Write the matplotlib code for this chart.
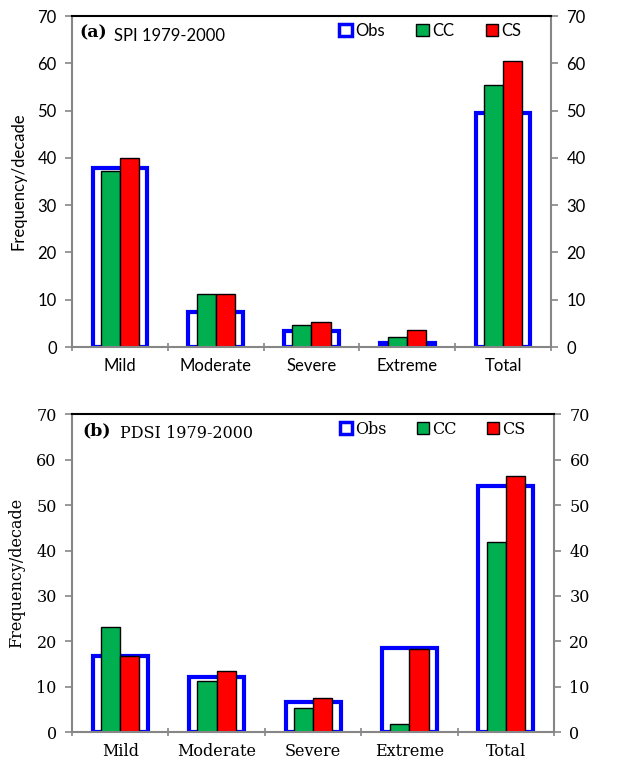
import matplotlib
matplotlib.use("Agg")
import matplotlib.pyplot as plt
from matplotlib.patches import Patch
import numpy as np

categories = ["Mild", "Moderate", "Severe", "Extreme", "Total"]

spi_obs = [37.8, 7.5, 3.3, 0.9, 49.5]
spi_cc = [37.2, 11.3, 4.7, 2.2, 55.5]
spi_cs = [40.0, 11.3, 5.3, 3.6, 60.4]

pdsi_obs = [16.8, 12.1, 6.7, 18.5, 54.2]
pdsi_cc = [23.2, 11.2, 5.2, 1.8, 41.8]
pdsi_cs = [16.8, 13.5, 7.5, 18.2, 56.4]

GREEN = "#00B050"
RED = "#FF0000"
BLUE = "#0000FF"
GRAY = "#868686"


def panel(ax, obs, cc, cs, tag, title, font, fs, tag_x, title_x):
    x = np.arange(len(categories))
    ax.bar(x, obs, width=0.57, facecolor="white", edgecolor=BLUE, linewidth=3.0, zorder=1)
    ax.bar(x - 0.1, cc, width=0.2, color=GREEN, edgecolor="black", linewidth=1.0, zorder=2)
    ax.bar(x + 0.1, cs, width=0.2, color=RED, edgecolor="black", linewidth=1.0, zorder=2)
    ax.set_xlim(-0.5, len(categories) - 0.5)
    ax.set_ylim(0, 70)
    ax.set_yticks(range(0, 71, 10))
    ax.set_xticks(x)
    ax.set_xticklabels(categories, family=font, fontsize=fs)
    ax.set_xticks(np.arange(-0.5, len(categories), 1.0), minor=True)
    ax.tick_params(axis="x", which="major", length=0, pad=8)
    ax.tick_params(axis="x", which="minor", length=6, color=GRAY, direction="inout", width=1.2)
    ax.tick_params(axis="y", which="both", left=True, right=True, labelleft=True,
                   labelright=True, length=5, color=GRAY, width=1.2, direction="out",
                   labelsize=fs, pad=6)
    for lab in ax.get_yticklabels():
        lab.set_family(font)
    for s in ("left", "right", "bottom"):
        ax.spines[s].set_color(GRAY)
        ax.spines[s].set_linewidth(1.5)
    ax.spines["top"].set_color("black")
    ax.spines["top"].set_linewidth(1.5)
    ax.set_ylabel("Frequency/decade", family=font, fontsize=fs, labelpad=8)
    ax.text(tag_x, 0.975, tag, transform=ax.transAxes, family="DejaVu Serif",
            fontweight="bold", fontsize=12.5, va="top", ha="left")
    ax.text(title_x, 0.965, title, transform=ax.transAxes, family=font,
            fontsize=fs, va="top", ha="left")
    handles = [Patch(facecolor="white", edgecolor=BLUE, linewidth=2.5),
               Patch(facecolor=GREEN, edgecolor="black", linewidth=1.0),
               Patch(facecolor=RED, edgecolor="black", linewidth=1.0)]
    ax.legend(handles, ["Obs", "CC", "CS"], ncol=3, loc="upper right",
              bbox_to_anchor=(0.97, 1.025), frameon=False, handlelength=0.75,
              handleheight=0.75, handletextpad=0.2, columnspacing=1.9,
              prop={"family": font, "size": fs})


fig = plt.figure(figsize=(6.27, 7.6), dpi=100)
ax1 = fig.add_axes([0.1148, 0.5434, 0.764, 0.4355])
ax2 = fig.add_axes([0.1148, 0.0368, 0.769, 0.418])

panel(ax1, spi_obs, spi_cc, spi_cs, "(a)", "SPI 1979-2000", "Lato", 12, 0.015, 0.088)
panel(ax2, pdsi_obs, pdsi_cc, pdsi_cs, "(b)", "PDSI 1979-2000", "DejaVu Serif", 11.5, 0.022, 0.1)

fig.savefig("out.png", dpi=100)
